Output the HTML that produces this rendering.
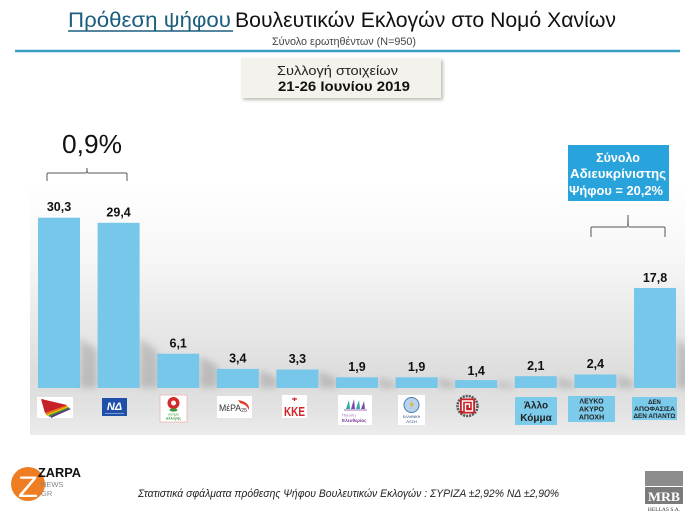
<!DOCTYPE html>
<html><head><meta charset="utf-8">
<style>
html,body{margin:0;padding:0;background:#fff;}
svg{display:block;}
text{font-family:"Liberation Sans","DejaVu Sans",sans-serif;}
</style></head>
<body>
<svg width="685" height="513" viewBox="0 0 685 513" xmlns="http://www.w3.org/2000/svg">
<defs>
<linearGradient id="panel" x1="0" y1="0" x2="0" y2="1">
<stop offset="0" stop-color="#ffffff"/>
<stop offset="0.3" stop-color="#f7f7f7"/>
<stop offset="0.78" stop-color="#dcdcdc"/>
<stop offset="0.9" stop-color="#e2e2e2"/>
<stop offset="1" stop-color="#ececec"/>
</linearGradient>
<filter id="blur" x="-50%" y="-50%" width="200%" height="200%"><feGaussianBlur stdDeviation="3.5"/></filter>
<filter id="bshadow" x="-10%" y="-10%" width="130%" height="140%"><feGaussianBlur stdDeviation="1.5"/></filter>
</defs>
<rect width="685" height="513" fill="#fff"/>
<rect x="30" y="180" width="655" height="255" fill="url(#panel)"/>

<!-- header -->
<text x="68" y="27" font-size="21" fill="#1b5e7e" textLength="163" lengthAdjust="spacingAndGlyphs">Πρόθεση ψήφου</text>
<line x1="68" y1="31" x2="233" y2="31" stroke="#1b5e7e" stroke-width="1.5"/>
<text x="235" y="27" font-size="21" fill="#111" textLength="381" lengthAdjust="spacingAndGlyphs">Βουλευτικών Εκλογών στο Νομό Χανίων</text>
<text x="272" y="45" font-size="11" fill="#444" textLength="144" lengthAdjust="spacingAndGlyphs">Σύνολο ερωτηθέντων (N=950)</text>
<line x1="15" y1="51" x2="680" y2="51" stroke="#3a9fc1" stroke-width="2.5"/>

<rect x="243" y="60" width="200" height="40" fill="#bdbdb5" filter="url(#bshadow)"/>
<rect x="241" y="58" width="200" height="40" fill="#f3f2ec"/>
<text x="277" y="75" font-size="13" fill="#222" textLength="121" lengthAdjust="spacingAndGlyphs">Συλλογή  στοιχείων</text>
<text x="278" y="91" font-size="14" font-weight="bold" fill="#111" textLength="132" lengthAdjust="spacingAndGlyphs">21-26 Ιουνίου 2019</text>

<!-- 0,9% bracket -->
<text x="62" y="153" font-size="26" fill="#111" textLength="60" lengthAdjust="spacingAndGlyphs">0,9%</text>
<path d="M47,181 L47,174 Q47,173 48,173 L86,173 Q87,173 87,168 Q87,173 88,173 L126,173 Q127,173 127,174 L127,181" fill="none" stroke="#555" stroke-width="1"/>

<!-- right box -->
<rect x="568" y="145" width="101" height="56" fill="#29a3dc"/>
<text x="618" y="162" font-size="12.5" font-weight="bold" fill="#fff" text-anchor="middle">Σύνολο</text>
<text x="618" y="178" font-size="12.5" font-weight="bold" fill="#fff" text-anchor="middle" textLength="96" lengthAdjust="spacingAndGlyphs">Αδιευκρίνιστης</text>
<text x="616" y="195" font-size="12.5" font-weight="bold" fill="#fff" text-anchor="middle" textLength="94" lengthAdjust="spacingAndGlyphs">Ψήφου = 20,2%</text>
<path d="M591,237 L591,228 Q591,227 592,227 L627,227 Q628,227 628,215 Q628,227 629,227 L664,227 Q665,227 665,228 L665,237" fill="none" stroke="#555" stroke-width="1"/>

<!-- shadows -->
<g fill="#777" opacity="0.32" filter="url(#blur)">
<polygon points="80,388 80,338 97,350 97,388"/>
<polygon points="140,388 140,338 158,352 158,388"/>
<polygon points="200,388 200,356 218,366 218,388"/>
<polygon points="260,388 260,370 277,378 277,388"/>
<polygon points="319,388 319,371 337,379 337,388"/>
<polygon points="379,388 379,378 396,383 396,388"/>
<polygon points="439,388 439,378 456,383 456,388"/>
<polygon points="498,388 498,381 515,385 515,388"/>
<polygon points="558,388 558,377 575,383 575,388"/>
<polygon points="618,388 618,375 634,382 634,388"/>
<polygon points="677,388 677,338 690,350 690,388"/>
</g>

<!-- bars -->
<g fill="#76c7ea">
<rect x="38" y="217.7" width="42" height="170.3"/>
<rect x="97.6" y="222.8" width="42" height="165.2"/>
<rect x="157.2" y="353.7" width="42" height="34.3"/>
<rect x="216.8" y="368.9" width="42" height="19.1"/>
<rect x="276.4" y="369.5" width="42" height="18.5"/>
<rect x="336" y="377.3" width="42" height="10.7"/>
<rect x="395.6" y="377.3" width="42" height="10.7"/>
<rect x="455.2" y="380.1" width="42" height="7.9"/>
<rect x="514.8" y="376.2" width="42" height="11.8"/>
<rect x="574.4" y="374.5" width="42" height="13.5"/>
<rect x="634" y="288" width="42" height="100"/>
</g>

<!-- value labels -->
<g font-size="12.5" font-weight="bold" fill="#111" text-anchor="middle">
<text x="59" y="211">30,3</text>
<text x="118.6" y="216.5">29,4</text>
<text x="178.2" y="347.5">6,1</text>
<text x="237.8" y="362.5">3,4</text>
<text x="297.4" y="363">3,3</text>
<text x="357" y="371">1,9</text>
<text x="416.6" y="371">1,9</text>
<text x="476.2" y="375">1,4</text>
<text x="535.8" y="370">2,1</text>
<text x="595.4" y="368">2,4</text>
<text x="655" y="282">17,8</text>
</g>

<!-- logos -->
<!-- SYRIZA -->
<rect x="37" y="397" width="36" height="21" fill="#fff"/>
<polygon points="45,401 71,409 51,418" fill="#6a2a8c"/>
<polygon points="44,400 70,408 49,417" fill="#2e8b3e"/>
<polygon points="43,400 69,407 47,416" fill="#f2c200"/>
<polygon points="42,399 68,406 46,415" fill="#e8731c"/>
<polygon points="41,399 67,405 45,413" fill="#c8202a"/>
<!-- ND -->
<rect x="102" y="398" width="25" height="18" fill="#1f4fa8"/>
<text x="114.5" y="410" font-size="11" font-weight="bold" font-style="italic" fill="#fff" text-anchor="middle">ΝΔ</text>
<line x1="105" y1="413.5" x2="124" y2="413.5" stroke="#9bb3e0" stroke-width="0.8"/>
<!-- KINAL -->
<rect x="160" y="395" width="27" height="27" fill="#fff" stroke="#eab5b5" stroke-width="0.8"/>
<circle cx="173.5" cy="403" r="6" fill="#d42a2a"/>
<circle cx="173.5" cy="403" r="2.5" fill="#fff"/>
<ellipse cx="173.5" cy="410" rx="4" ry="1.6" fill="#3a9a3a"/>
<text x="173.5" y="415.5" font-size="3.5" fill="#3a9a3a" text-anchor="middle">κίνημα</text>
<text x="173.5" y="419.5" font-size="3.8" fill="#3a9a3a" text-anchor="middle" font-weight="bold">αλλαγής</text>
<!-- MeRA25 -->
<rect x="217" y="396" width="35" height="22" fill="#fff"/>
<text x="219" y="411" font-size="9" fill="#333" textLength="22" lengthAdjust="spacingAndGlyphs">MέPA</text>
<text x="241" y="412" font-size="5.5" fill="#333">25</text>
<path d="M238,400 Q250,402 249,410 Q246,404 240,403 Z" fill="#e03a2a"/>
<!-- KKE -->
<rect x="282" y="395" width="25" height="23" fill="#fff"/>
<path d="M292,399 L297,399 M294.5,397.5 L294.5,401" stroke="#d2232a" stroke-width="1.2"/>
<text x="294.5" y="416" font-size="13" font-weight="bold" fill="#d2232a" text-anchor="middle" textLength="21" lengthAdjust="spacingAndGlyphs">KKE</text>
<!-- Plefsi -->
<rect x="338" y="395" width="34" height="30" fill="#fff"/>
<polygon points="346,409 349,400 350,409" fill="#2aa8a8"/>
<polygon points="351,409 354,399 355,409" fill="#7a4aa8"/>
<polygon points="356,409 359,400 360,409" fill="#2aa8a8"/>
<polygon points="361,409 364,401 365,409" fill="#7a4aa8"/>
<line x1="344" y1="410" x2="367" y2="410" stroke="#7a4aa8" stroke-width="0.8"/>
<text x="342" y="416.5" font-size="4" fill="#a06ab8">Πλεύση</text>
<text x="342" y="422" font-size="4.6" font-weight="bold" fill="#7a3a98">Ελευθερίας</text>
<!-- Elliniki Lysi -->
<rect x="398" y="395" width="27" height="30" fill="#fff"/>
<circle cx="411.5" cy="405" r="7.5" fill="#b8d3ec" stroke="#4a7ab0" stroke-width="1"/>
<path d="M413,399 L409.5,405.5 L412,405.5 L410,411 L414,403.5 L411.5,403.5 Z" fill="#e8b02a"/>
<text x="411.5" y="418" font-size="3.4" fill="#1d3f7a" text-anchor="middle">ΕΛΛΗΝΙΚΗ</text>
<text x="411.5" y="423" font-size="4" fill="#1d3f7a" text-anchor="middle">ΛΥΣΗ</text>
<!-- Golden Dawn -->
<circle cx="467.5" cy="406" r="10" fill="none" stroke="#555" stroke-width="2.5" stroke-dasharray="2 1"/>
<rect x="460" y="398.5" width="15" height="15" fill="#c92026"/>
<path d="M462.5,411 L462.5,401 L472.5,401 L472.5,411 L465.5,411 L465.5,404 L469.5,404 L469.5,408" fill="none" stroke="#fff" stroke-width="1.4"/>
<!-- Allo Komma -->
<rect x="515" y="397" width="42" height="28" fill="#7ccbeb"/>
<text x="536" y="408.5" font-size="10" font-weight="bold" fill="#222" text-anchor="middle">Άλλο</text>
<text x="536" y="421" font-size="10" font-weight="bold" fill="#222" text-anchor="middle">Κόμμα</text>
<!-- Lefko -->
<rect x="568" y="396" width="47" height="26" fill="#7ccbeb"/>
<g font-size="7" font-weight="bold" fill="#222" text-anchor="middle">
<text x="591.5" y="403.5">ΛΕΥΚΟ</text>
<text x="591.5" y="411.5">ΑΚΥΡΟ</text>
<text x="591.5" y="419.5">ΑΠΟΧΗ</text>
</g>
<!-- Den -->
<rect x="632" y="397" width="45" height="23" fill="#7ccbeb"/>
<g font-size="6" font-weight="bold" fill="#222" text-anchor="middle">
<text x="654.5" y="404">ΔΕΝ</text>
<text x="654.5" y="411" textLength="41" lengthAdjust="spacingAndGlyphs">ΑΠΟΦΑΣΙΣΑ</text>
<text x="654.5" y="418" textLength="42" lengthAdjust="spacingAndGlyphs">ΔΕΝ ΑΠΑΝΤΩ</text>
</g>

<!-- footer -->
<circle cx="28" cy="484" r="17" fill="#ef7d22"/>
<text x="28" y="497" font-size="30" fill="#fff" text-anchor="middle" textLength="20" lengthAdjust="spacingAndGlyphs">Z</text>
<text x="38" y="477" font-size="13" font-weight="bold" fill="#111" textLength="43" lengthAdjust="spacingAndGlyphs">ZARPA</text>
<text x="41" y="487" font-size="7.5" fill="#888">NEWS</text>
<text x="41" y="496" font-size="7.5" fill="#888">GR</text>

<text x="138" y="497" font-size="11" font-style="italic" fill="#222" textLength="421" lengthAdjust="spacingAndGlyphs">Στατιστικά σφάλματα πρόθεσης Ψήφου Βουλευτικών Εκλογών : ΣΥΡΙΖΑ ±2,92% ΝΔ ±2,90%</text>

<rect x="645" y="471" width="38" height="15" fill="#8c8c8c"/>
<rect x="645" y="487" width="38" height="17" fill="#7b7b7b"/>
<text x="664" y="501" font-size="13" font-weight="bold" fill="#fff" text-anchor="middle" style="font-family:'Liberation Serif',serif" textLength="32" lengthAdjust="spacingAndGlyphs">MRB</text>
<text x="664" y="511" font-size="5.5" fill="#333" text-anchor="middle" style="font-family:'Liberation Serif',serif">HELLAS S.A.</text>
</svg>
</body></html>
